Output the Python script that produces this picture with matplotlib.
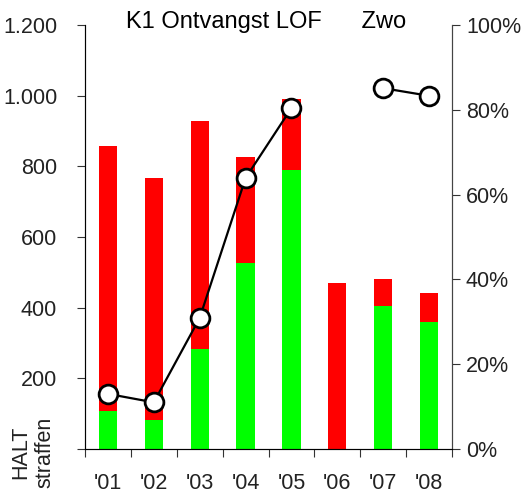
import numpy as np
import matplotlib.pyplot as plt
from matplotlib.ticker import FuncFormatter

plt.rcParams['font.family'] = ['Liberation Sans', 'DejaVu Sans']

# data
jaren = ["'01", "'02", "'03", "'04", "'05", "'06", "'07", "'08"]
groen = [108, 82, 283, 526, 790, 0, 405, 360]
totaal = [858, 767, 928, 826, 990, 470, 481, 441]
rood = [t - g for t, g in zip(totaal, groen)]
percentage = [13.0, 11.0, 30.9, 63.9, 80.4, np.nan, 85.1, 83.3]

fig = plt.figure(figsize=(5.29, 4.93), dpi=100)
ax = fig.add_axes([85/529, 1 - 449/493, 367/529, 424/493])
x = np.arange(len(jaren))

ax.bar(x, groen, width=0.4, color='#00ff00')
ax.bar(x, rood, width=0.4, bottom=groen, color='#ff0000')

ax.set_xlim(-0.5, len(jaren) - 0.5)
ax.set_ylim(0, 1200)
ax.set_yticks(range(0, 1201, 200))
ax.yaxis.set_major_formatter(FuncFormatter(
    lambda v, p: '' if v == 0 else f'{int(v):,}'.replace(',', '.')))

# x ticks tussen de categorieen, labels in het midden
ax.set_xticks(np.arange(-0.5, len(jaren), 1))
ax.set_xticklabels([])
ax.set_xticks(x, minor=True)
ax.set_xticklabels(jaren, minor=True)
ax.tick_params(axis='x', which='minor', length=0, pad=17, labelsize=15.5, labelcolor='#222222')
ax.tick_params(axis='x', which='major', length=6, color='#333333')
ax.tick_params(axis='y', length=6, labelsize=15.5, labelcolor='#222222', pad=14, color='#333333')

ax.spines['top'].set_visible(False)
for s in ['left', 'bottom', 'right']:
    ax.spines[s].set_color('#444444')

ax2 = ax.twinx()
ax2.plot(x, percentage, color='black', linewidth=1.6, marker='o', markersize=13.5,
         markerfacecolor='white', markeredgecolor='black', markeredgewidth=2)
ax2.set_ylim(0, 100)
ax2.set_yticks(range(0, 101, 20))
ax2.yaxis.set_major_formatter(FuncFormatter(lambda v, p: f'{int(v)}%'))
ax2.tick_params(axis='y', length=6, labelsize=15.5, labelcolor='#222222', pad=4, color='#333333')
ax2.spines['top'].set_visible(False)
ax2.spines['right'].set_color('#444444')

fig.text(0.503, 1 - 22/493, 'K1 Ontvangst LOF      Zwo', ha='center', va='center', fontsize=17)
fig.text(0.062, 5/493, 'HALT\nstraffen', rotation=90, ha='center', va='bottom',
         fontsize=15.5, color='#222222', linespacing=1.15)

fig.savefig('out.png', dpi=100)
